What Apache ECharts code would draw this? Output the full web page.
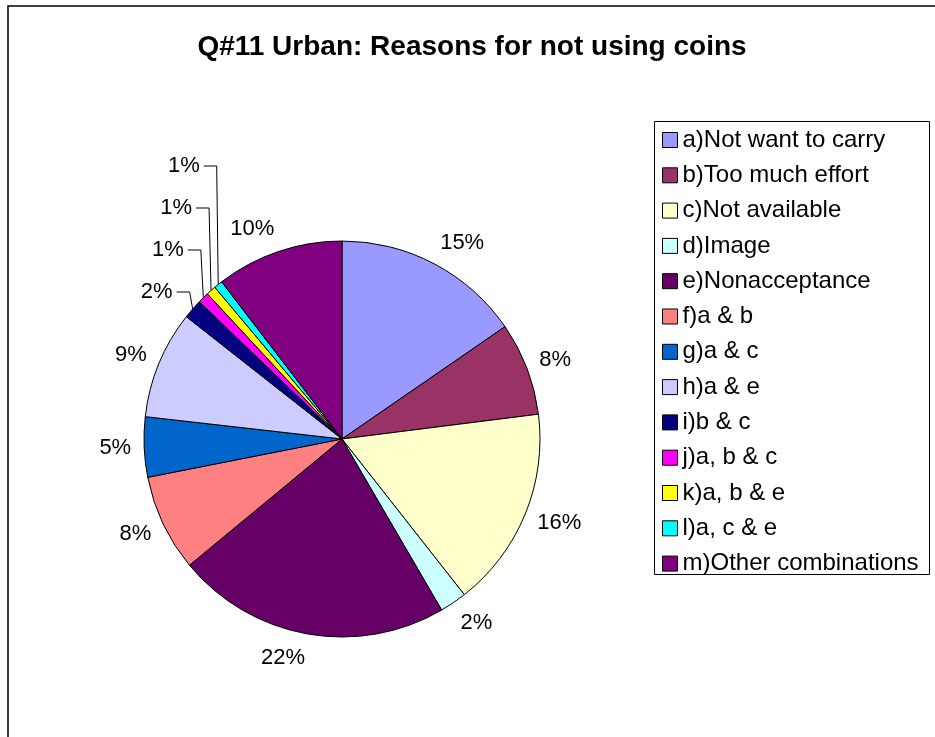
<!DOCTYPE html>
<html>
<head>
<meta charset="utf-8">
<script src="https://cdn.jsdelivr.net/npm/echarts@6/dist/echarts.min.js"></script>
<style>
  html, body { margin: 0; padding: 0; background: #fff; }
  #chart { width: 935px; height: 737px; }
</style>
</head>
<body>
<div id="chart"></div>
<script>
// Reasons given by urban respondents for not using coins (share of answers, %)
const titleText = 'Q#11 Urban: Reasons for not using coins';
const categories = [
  'a)Not want to carry', 'b)Too much effort', 'c)Not available', 'd)Image',
  'e)Nonacceptance', 'f)a & b', 'g)a & c', 'h)a & e', 'i)b & c',
  'j)a, b & c', 'k)a, b & e', 'l)a, c & e', 'm)Other combinations'
];
const shares = [15.4, 7.6, 16.4, 2.2, 22.4, 7.9, 4.9, 8.8, 1.6, 0.9, 0.8, 0.7, 10.4];
const colors = [
  '#9999FF', '#993366', '#FFFFCC', '#CCFFFF', '#660066', '#FF8080', '#0066CC',
  '#CCCCFF', '#000080', '#FF00FF', '#FFFF00', '#00FFFF', '#800080'
];
// thin slices whose labels are stacked above the pie with leader lines
const calloutIdx = [8, 9, 10, 11];

const CX = 342, CY = 439, R = 198;
const FONT = 'Liberation Sans, Arial, sans-serif';

// mid angle of every slice, clockwise from 12 o'clock
const total = shares.reduce((s, v) => s + v, 0);
const mids = [];
let acc = 0;
shares.forEach(v => { mids.push((acc + v / 2) / total * 2 * Math.PI); acc += v; });

function layoutLabel(p) {
  const i = p.dataIndex;
  const dx = Math.sin(mids[i]), dy = -Math.cos(mids[i]);
  const w = p.labelRect.width, h = p.labelRect.height;
  const k = calloutIdx.indexOf(i);
  if (k >= 0) {
    // stacked callouts: short elbow to the left, then a horizontal run to the text
    const ax = CX + R * dx, ay = CY + R * dy;
    const y0 = CY - R * Math.cos(mids[calloutIdx[0]]) - 17;
    const ly = y0 - 42 * k;
    const ex = ax - 3 + 0.5 * k;
    return {
      x: ex - 17, y: ly, align: 'right', verticalAlign: 'middle',
      labelLinePoints: [[ax, ay], [ex, ly], [ex - 13, ly]]
    };
  }
  const rr = R + 13;
  return {
    x: CX + rr * dx + Math.sign(dx) * w / 2,
    y: CY + rr * dy + dy * h / 2,
    align: 'center', verticalAlign: 'middle'
  };
}

const chart = echarts.init(document.getElementById('chart'), null, { renderer: 'canvas' });
chart.setOption({
  animation: false,
  backgroundColor: '#fff',
  graphic: [
    {
      // chart area frame
      type: 'rect', z: -1, silent: true,
      shape: { x: 8, y: 6, width: 960, height: 760 },
      style: { fill: 'none', stroke: '#000', lineWidth: 1.5 }
    },
    {
      // legend frame
      type: 'rect', z: -1, silent: true,
      shape: { x: 654.5, y: 121.5, width: 275, height: 453 },
      style: { fill: '#fff', stroke: '#000', lineWidth: 1 }
    },
    {
      type: 'text', x: 472, y: 47, silent: true,
      style: {
        text: titleText, fill: '#000', font: 'bold 28px ' + FONT,
        textAlign: 'center', textVerticalAlign: 'middle'
      }
    }
  ],
  legend: {
    orient: 'vertical', left: 654, top: 119,
    data: categories, icon: 'rect', selectedMode: false,
    itemWidth: 15, itemHeight: 15, itemGap: 11.3,
    padding: [9, 10, 1, 8],
    borderWidth: 0,
    itemStyle: { borderColor: '#000', borderWidth: 1 },
    textStyle: { fontFamily: FONT, fontSize: 24, color: '#000', lineHeight: 20 }
  },
  series: [{
    type: 'pie',
    center: [CX, CY], radius: R,
    startAngle: 90, clockwise: true,
    avoidLabelOverlap: false,
    emphasis: { disabled: true },
    itemStyle: { borderColor: '#000', borderWidth: 1 },
    label: {
      show: true, position: 'outside', color: '#000',
      fontFamily: FONT, fontSize: 22,
      formatter: p => Math.round(p.percent) + '%'
    },
    labelLine: { show: false },
    labelLayout: layoutLabel,
    data: categories.map((name, i) => ({
      name, value: shares[i],
      itemStyle: { color: colors[i] },
      labelLine: calloutIdx.includes(i)
        ? { show: true, lineStyle: { color: '#000', width: 1 } }
        : { show: false }
    }))
  }]
});
</script>
</body>
</html>
